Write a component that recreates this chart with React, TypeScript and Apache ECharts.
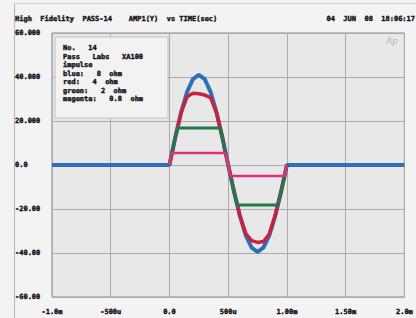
import React, { useEffect, useRef } from "react";
import * as echarts from "echarts";

// Time axis (ms) and amplitude values
const T_BLUE = [-1, 0, 0.05, 0.1, 0.15, 0.2, 0.25, 0.3, 0.35, 0.4, 0.45, 0.5, 0.55, 0.6, 0.65, 0.7, 0.75, 0.8, 0.85, 0.9, 0.95, 1.0, 2];
const V_BLUE = [0, 0, 12.7, 24.1, 33.2, 39.0, 41.0, 39.0, 33.2, 24.1, 12.7, 0, -12.2, -23.2, -32.0, -37.6, -39.5, -37.6, -32.0, -23.2, -12.2, 0, 0];

const T_RED = [0, 0.05, 0.1, 0.15, 0.2, 0.25, 0.3, 0.35, 0.4, 0.45, 0.5, 0.55, 0.6, 0.65, 0.7, 0.75, 0.8, 0.85, 0.9, 0.95, 1.0];
const V_RED = [0, 12.6, 23.9, 31.0, 32.6, 32.4, 31.8, 30.6, 23.8, 12.6, 0, -12.1, -23.0, -31.2, -34.4, -35.2, -34.8, -31.4, -23.0, -12.1, 0];

const T_GREEN = [0, 0.05, 0.07, 0.43, 0.45, 0.5, 0.55, 0.575, 0.925, 0.95, 1.0];
const V_GREEN = [0, 12.5, 16.8, 16.8, 12.5, 0, -12.2, -18.2, -18.2, -12.2, 0];

const T_PINK = [0, 0.022, 0.478, 0.5, 0.52, 0.98, 1.0];
const V_PINK = [0, 5.5, 5.5, 0, -5.0, -5.0, 0];

const X_TICKS: Record<string, string> = {
  "-1": "-1.0m",
  "-0.5": "-500u",
  "0": "0.0",
  "0.5": "500u",
  "1": "1.00m",
  "1.5": "1.50m",
  "2": "2.0m",
};
const Y_TICKS: Record<string, string> = {
  "60": "60.000",
  "40": "40.000",
  "20": "20.000",
  "0": "0.0",
  "-20": "-20.00",
  "-40": "-40.00",
  "-60": "-60.00",
};

const HEADER = "High  Fidelity  PASS-14    AMP1(Y)  vs TIME(sec)";
const DATE = "04  JUN  08  18:06:17";
const LEGEND_LINES = [
  "No.   14",
  "Pass   Labs   XA100",
  "impulse",
  "blue:   8  ohm",
  "red:   4  ohm",
  "green:   2  ohm",
  "magenta:   0.8  ohm",
];

const zip = (t: number[], v: number[]) => t.map((x, i) => [x, v[i]]);

const MONO = '"DejaVu Sans Mono", monospace';

export default function App() {
  const ref = useRef<HTMLDivElement>(null);
  useEffect(() => {
    if (!ref.current) return;
    const chart = echarts.init(ref.current, undefined, { renderer: "svg" });
    const labelStyle = {
      fontFamily: MONO,
      fontWeight: "bold" as const,
      fontSize: 7,
      color: "#111",
      textBorderColor: "#111",
      textBorderWidth: 0.4,
    };
    const textBold = {
      font: `bold 7px ${MONO}`,
      fill: "#111",
      stroke: "#111",
      lineWidth: 0.4,
    };
    chart.setOption({
      animation: false,
      backgroundColor: "#f3f3f3",
      grid: {
        left: 52,
        right: 8,
        top: 33,
        bottom: 21,
        show: true,
        backgroundColor: "#e8e8e8",
        borderColor: "#8a8a8a",
        borderWidth: 1,
      },
      xAxis: {
        type: "value",
        min: -1,
        max: 2,
        interval: 0.5,
        axisLine: { show: false },
        axisTick: { show: false },
        splitLine: { show: true, lineStyle: { color: "#ababab", width: 1 } },
        axisLabel: {
          ...labelStyle,
          margin: 11,
          formatter: (v: number) => X_TICKS[String(v)] ?? "",
        },
      },
      yAxis: {
        type: "value",
        min: -60,
        max: 60,
        interval: 20,
        axisLine: { show: false },
        axisTick: { show: false },
        splitLine: { show: true, lineStyle: { color: "#ababab", width: 1 } },
        axisLabel: {
          ...labelStyle,
          align: "left",
          margin: 37,
          formatter: (v: number) => Y_TICKS[String(v)] ?? "",
        },
      },
      graphic: [
        {
          type: "line",
          shape: { x1: 14.5, y1: 3, x2: 14.5, y2: 318 },
          style: { stroke: "#b5b5b5", lineWidth: 1 },
          silent: true,
        },
        {
          type: "line",
          shape: { x1: 14, y1: 3.5, x2: 416, y2: 3.5 },
          style: { stroke: "#d0d0d0", lineWidth: 1 },
          silent: true,
        },
        {
          type: "text",
          x: 15,
          y: 19,
          style: { ...textBold, text: HEADER, textVerticalAlign: "middle" },
          silent: true,
        },
        {
          type: "text",
          x: 415,
          y: 19,
          style: {
            ...textBold,
            text: DATE,
            textAlign: "right",
            textVerticalAlign: "middle",
          },
          silent: true,
        },
        {
          type: "rect",
          shape: { x: 55, y: 37, width: 113, height: 81 },
          style: { fill: "#f2f2f2", stroke: "#c4c4c4", lineWidth: 1 },
          z: 10,
          silent: true,
        },
        {
          type: "text",
          x: 63,
          y: 44,
          style: {
            ...textBold,
            text: LEGEND_LINES.join("\n"),
            lineHeight: 8.5,
          },
          z: 11,
          silent: true,
        },
        {
          type: "text",
          x: 386,
          y: 36,
          style: {
            text: "Ap",
            font: `italic 9px "DejaVu Sans"`,
            fill: "#b3b3b3",
          },
          z: 11,
          silent: true,
        },
      ],
      series: [
        {
          type: "line",
          data: zip(T_BLUE, V_BLUE),
          showSymbol: false,
          lineStyle: { color: "#2e6fb6", width: 4 },
          z: 2,
        },
        {
          type: "line",
          data: zip(T_RED, V_RED),
          showSymbol: false,
          lineStyle: { color: "#c8223c", width: 3.5 },
          z: 3,
        },
        {
          type: "line",
          data: zip(T_GREEN, V_GREEN),
          showSymbol: false,
          lineStyle: { color: "#1e7a46", width: 3 },
          z: 4,
        },
        {
          type: "line",
          data: zip(T_PINK, V_PINK),
          showSymbol: false,
          lineStyle: { color: "#e0307c", width: 2.5 },
          z: 5,
        },
      ],
    });
    return () => chart.dispose();
  }, []);
  return (
    <div
      ref={ref}
      style={{ position: "fixed", left: 0, top: 0, width: 416, height: 318 }}
    />
  );
}
